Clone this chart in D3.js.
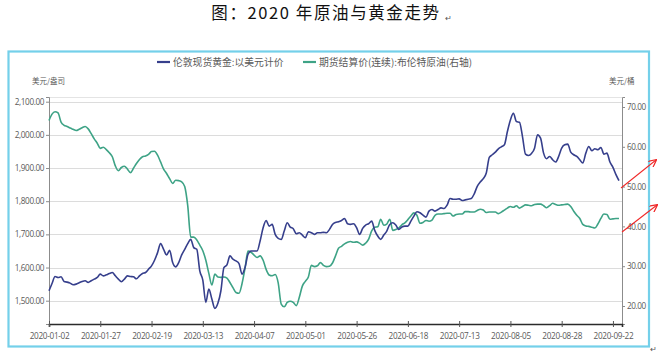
<!DOCTYPE html>
<html>
<head>
<meta charset="utf-8">
<script src="https://cdn.jsdelivr.net/npm/d3@7/dist/d3.min.js"></script>
<style>
  html, body { margin: 0; padding: 0; background: #ffffff; }
  svg { display: block; }
</style>
</head>
<body>
<svg id="chart" width="660" height="359"></svg>
<script>
// ---------- DATA ----------
const titleText = "图：2020 年原油与黄金走势";
const goldName = "伦敦现货黄金:以美元计价";
const oilName = "期货结算价(连续):布伦特原油(右轴)";
const leftUnit = "美元/盎司";
const rightUnit = "美元/桶";

// x tick labels (every 17 trading days)
const xTickIndex = [0, 17, 34, 51, 68, 85, 102, 119, 136, 153, 170, 187];
const xTickLabels = ["2020-01-02","2020-01-27","2020-02-19","2020-03-13","2020-04-07","2020-05-01",
                     "2020-05-26","2020-06-18","2020-07-13","2020-08-05","2020-08-28","2020-09-22"];
const leftTicks = [1500, 1600, 1700, 1800, 1900, 2000, 2100];
const rightTicks = [20, 30, 40, 50, 60, 70];

// LBMA spot gold, USD/oz (left axis)
const gold = [
 1530,1552,1573,1570,1572,1558,1556,1553,1548,1550,
 1554,1558,1560,1555,1560,1565,1570,1580,1575,1578,
 1582,1585,1575,1565,1557,1565,1575,1573,1572,1566,
 1575,1582,1585,1595,1605,1622,1645,1672,1655,1638,
 1652,1615,1602,1615,1638,1655,1672,1685,1660,1655,
 1590,1562,1495,1535,1505,1477,1492,1530,1600,1608,
 1635,1625,1620,1612,1580,1600,1640,1650,1650,1650,
 1680,1720,1742,1725,1730,1700,1688,1685,1710,1735,
 1722,1717,1702,1705,1698,1690,1708,1705,1700,1705,
 1705,1706,1705,1715,1730,1736,1738,1742,1748,1732,
 1730,1732,1720,1700,1718,1728,1732,1740,1712,1695,
 1685,1698,1710,1730,1735,1728,1715,1722,1725,1725,
 1740,1755,1768,1765,1758,1752,1770,1775,1770,1775,
 1780,1778,1788,1808,1806,1806,1807,1802,1804,1806,
 1808,1822,1845,1858,1868,1885,1932,1940,1948,1958,
 1964,1970,2010,2045,2065,2040,2038,1995,1942,1938,
 1944,1960,2000,1990,1945,1928,1935,1925,1918,1935,
 1960,1970,1972,1948,1940,1935,1925,1915,1945,1965,
 1952,1958,1955,1962,1942,1945,1918,1902,1880,1862
];

// Brent continuous futures settlement, USD/bbl (right axis)
const oil = [
 66.6,68.2,68.8,68.5,66.2,65.4,65.1,64.7,64.4,64.1,
 64.4,64.8,65.1,64.5,63.3,62.0,60.9,59.6,59.9,59.3,
 58.5,57.5,55.2,54.0,54.8,55.1,54.4,53.5,54.6,55.8,
 56.8,57.5,57.7,58.1,58.8,58.9,57.9,56.2,54.4,53.3,
 52.0,50.8,51.6,51.5,51.2,50.0,45.2,37.3,37.3,36.6,
 35.3,33.9,31.5,28.2,25.3,28.0,27.3,27.2,27.3,27.0,
 25.9,24.6,23.4,23.2,25.6,29.5,33.8,33.5,32.8,32.2,
 32.6,31.5,29.2,27.8,27.6,27.9,25.8,20.5,19.8,20.9,
 21.2,20.9,20.1,22.2,25.0,26.2,27.3,30.2,29.9,30.1,
 30.9,30.2,29.9,30.0,30.8,32.6,34.5,35.0,35.6,36.0,
 36.2,36.0,36.1,35.8,35.3,35.8,36.8,38.9,39.8,39.9,
 41.8,40.3,40.6,41.8,39.0,39.2,39.6,40.4,40.9,41.7,
 42.6,43.4,42.8,40.8,41.0,41.5,41.3,41.6,42.8,43.1,
 43.1,43.2,43.3,43.3,42.6,43.0,43.1,43.1,43.7,43.7,
 43.6,43.6,44.0,44.3,44.1,43.5,43.6,43.6,43.6,43.2,
 43.6,44.1,44.6,45.0,44.8,45.2,44.6,45.0,45.4,45.3,
 45.2,45.5,45.6,45.6,45.2,44.7,45.2,45.8,45.5,45.3,
 45.4,45.5,45.6,45.0,43.8,42.8,42.0,40.5,40.1,40.0,
 39.8,39.6,40.6,42.0,43.1,43.0,41.8,41.9,42.0,42.0
];

// ---------- LAYOUT ----------
const svg = d3.select("#chart");
const plot = { left: 49, right: 622, top: 97, bottom: 324 };
const goldColor = "#363f8c";
const oilColor = "#3ea386";
const textColor = "#595959";
const cjk = "'Noto Sans CJK SC', 'Noto Sans', sans-serif";
const latin = "'Open Sans', 'Noto Sans', sans-serif";

const x = d3.scaleLinear().domain([0, 190]).range([plot.left, plot.right]);

const yL0 = d3.scaleLinear().domain([1500, 2100]).range([300.7, 101.7]);
const yL = d3.scaleLinear().domain([yL0.invert(plot.bottom), yL0.invert(plot.top)]).range([plot.bottom, plot.top]);
const yR0 = d3.scaleLinear().domain([20, 70]).range([306, 107]);
const yR = d3.scaleLinear().domain([yR0.invert(plot.bottom), yR0.invert(plot.top)]).range([plot.bottom, plot.top]);

// Title
svg.append("text").attr("x", 326).attr("y", 19).attr("text-anchor", "middle")
  .attr("font-family", cjk).attr("font-size", 16.5).attr("font-weight", 400)
  .attr("letter-spacing", 1.6).attr("fill", "#111").text(titleText);
svg.append("text").attr("x", 445).attr("y", 21)
  .attr("font-family", latin).attr("font-size", 8).attr("fill", "#555").text("↵");

// Outer frame
svg.append("rect").attr("x", 8.5).attr("y", 51.5).attr("width", 640.5).attr("height", 295)
  .attr("fill", "none").attr("stroke", "#74d0ea").attr("stroke-width", 2.2);
svg.append("text").attr("x", 650).attr("y", 352)
  .attr("font-family", latin).attr("font-size", 8).attr("fill", "#555").text("↵");

// Gridlines
const grid = svg.append("g");
grid.selectAll("line.g").data(leftTicks).join("line")
  .attr("x1", plot.left).attr("x2", plot.right)
  .attr("y1", d => Math.round(yL(d)) + 0.5).attr("y2", d => Math.round(yL(d)) + 0.5)
  .attr("stroke", "#dcdcdc").attr("stroke-width", 1.2);
grid.append("line").attr("x1", plot.left).attr("x2", plot.right)
  .attr("y1", plot.top + 0.5).attr("y2", plot.top + 0.5)
  .attr("stroke", "#e4e4e4").attr("stroke-width", 1);

// Left axis
const axL = svg.append("g").attr("transform", `translate(${plot.left},0)`)
  .call(d3.axisLeft(yL).tickValues(leftTicks).tickSize(3).tickPadding(2)
        .tickFormat(d => d3.format(",.2f")(d)));
axL.select(".domain").attr("stroke", "#8c8c8c");
axL.selectAll(".tick line").attr("stroke", "#8c8c8c");
axL.selectAll("text").attr("font-family", latin).attr("font-size", 8.2)
  .attr("fill", textColor).attr("letter-spacing", -0.4);

// Right axis
const axR = svg.append("g").attr("transform", `translate(${plot.right},0)`)
  .call(d3.axisRight(yR).tickValues(rightTicks).tickSize(3).tickPadding(2)
        .tickFormat(d => d3.format(".2f")(d)));
axR.select(".domain").attr("stroke", "#8c8c8c");
axR.selectAll(".tick line").attr("stroke", "#8c8c8c");
axR.selectAll("text").attr("font-family", latin).attr("font-size", 8.2)
  .attr("fill", textColor).attr("letter-spacing", -0.4);

// Bottom axis
const axB = svg.append("g").attr("transform", `translate(0,${plot.bottom})`)
  .call(d3.axisBottom(x).tickValues(xTickIndex).tickSize(3).tickPadding(6)
        .tickFormat((d, i) => xTickLabels[i]));
axB.select(".domain").attr("stroke", "#2b2b2b").attr("stroke-width", 1.6);
axB.selectAll(".tick line").attr("stroke", "#555").attr("y1", -3).attr("y2", 3);
axB.selectAll("text").attr("font-family", latin).attr("font-size", 8.2)
  .attr("fill", textColor).attr("letter-spacing", -0.3);

// Unit labels
svg.append("text").attr("x", 32).attr("y", 84).attr("font-family", cjk)
  .attr("font-size", 7.5).attr("fill", textColor).text(leftUnit);
svg.append("text").attr("x", 609).attr("y", 84).attr("font-family", cjk)
  .attr("font-size", 7.5).attr("fill", textColor).text(rightUnit);

// Lines
const goldLine = d3.line().x((d, i) => x(i)).y(d => yL(d)).curve(d3.curveMonotoneX);
const oilLine = d3.line().x((d, i) => x(i)).y(d => yR(d)).curve(d3.curveMonotoneX);
svg.append("path").datum(oil).attr("d", oilLine).attr("fill", "none")
  .attr("stroke", oilColor).attr("stroke-width", 1.6).attr("stroke-linejoin", "round");
svg.append("path").datum(gold).attr("d", goldLine).attr("fill", "none")
  .attr("stroke", goldColor).attr("stroke-width", 1.6).attr("stroke-linejoin", "round");

// Legend
const leg = svg.append("g");
const legendItems = [
  { name: goldName, color: goldColor, x: 157 },
  { name: oilName, color: oilColor, x: 303 }
];
legendItems.forEach(it => {
  leg.append("line").attr("x1", it.x).attr("x2", it.x + 13).attr("y1", 62).attr("y2", 62)
    .attr("stroke", it.color).attr("stroke-width", 2.2);
  leg.append("text").attr("x", it.x + 16).attr("y", 65.5).attr("font-family", cjk)
    .attr("font-size", 9.8).attr("fill", textColor).text(it.name);
});

// Red annotation arrows
const defs = svg.append("defs");
defs.append("marker").attr("id", "arr").attr("viewBox", "0 0 10 10").attr("refX", 9).attr("refY", 5)
  .attr("markerWidth", 7).attr("markerHeight", 7).attr("orient", "auto")
  .append("path").attr("d", "M0,0 L10,5 L0,10").attr("fill", "none").attr("stroke", "#f02828").attr("stroke-width", 1.6);
const arrows = [
  { x1: 621, y1: 188, x2: 656, y2: 160 },
  { x1: 622, y1: 232, x2: 657, y2: 205 }
];
arrows.forEach(a => {
  svg.append("line").attr("x1", a.x1).attr("y1", a.y1).attr("x2", a.x2).attr("y2", a.y2)
    .attr("stroke", "#f02828").attr("stroke-width", 1.1).attr("marker-end", "url(#arr)");
});
</script>
</body>
</html>
